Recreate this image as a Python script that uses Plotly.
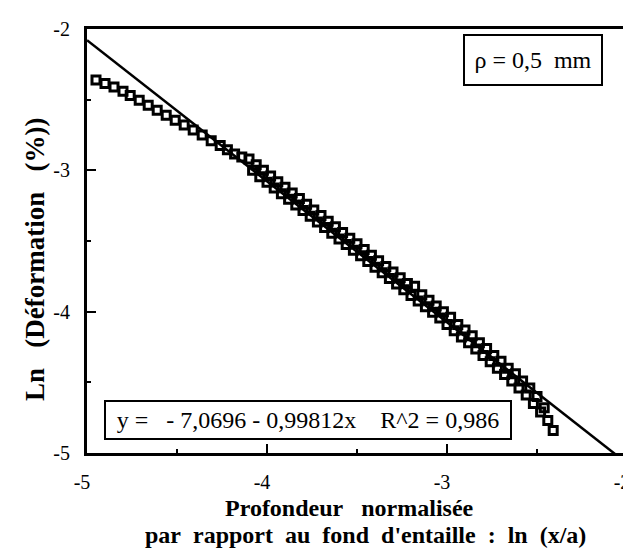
import plotly.graph_objects as go

# ---- data ----
x_data = [-4.95, -4.90, -4.85, -4.80, -4.76, -4.71, -4.66, -4.61, -4.56, -4.51,
          -4.46, -4.41, -4.36, -4.31, -4.26, -4.22, -4.18, -4.14,
          # upper part of the band
          -4.10, -4.06, -4.02, -3.98, -3.94, -3.90, -3.86, -3.82, -3.78, -3.74,
          -3.70, -3.66, -3.62, -3.58, -3.54, -3.50, -3.46, -3.42, -3.38, -3.34,
          -3.30, -3.26, -3.22, -3.18, -3.14, -3.10, -3.06, -3.02, -2.98, -2.94,
          -2.90, -2.86, -2.82, -2.78, -2.74, -2.70, -2.66, -2.62, -2.58, -2.54,
          -2.50, -2.46,
          # lower part of the band
          -4.08, -4.04, -4.00, -3.96, -3.92, -3.88, -3.84, -3.80, -3.76, -3.72,
          -3.68, -3.64, -3.60, -3.56, -3.52, -3.48, -3.44, -3.40, -3.36, -3.32,
          -3.28, -3.24, -3.20, -3.16, -3.12, -3.08, -3.04, -3.00, -2.96, -2.92,
          -2.88, -2.84, -2.80, -2.76, -2.72, -2.68, -2.64, -2.60, -2.56, -2.52,
          -2.48, -2.44, -2.41]
y_data = [-2.360, -2.385, -2.410, -2.440, -2.470, -2.505, -2.540, -2.575, -2.610, -2.645,
          -2.680, -2.715, -2.750, -2.790, -2.825, -2.855, -2.885, -2.905,
          -2.92, -2.96, -3.00, -3.04, -3.08, -3.12, -3.16, -3.20, -3.24, -3.28,
          -3.32, -3.36, -3.40, -3.44, -3.48, -3.52, -3.56, -3.60, -3.64, -3.68,
          -3.72, -3.76, -3.80, -3.82, -3.88, -3.92, -3.96, -4.00, -4.04, -4.09,
          -4.13, -4.17, -4.22, -4.26, -4.31, -4.35, -4.40, -4.44, -4.49, -4.54,
          -4.60, -4.68,
          -3.000, -3.045, -3.085, -3.125, -3.165, -3.205, -3.245, -3.285, -3.325, -3.365,
          -3.405, -3.445, -3.485, -3.525, -3.565, -3.605, -3.645, -3.685, -3.725, -3.765,
          -3.805, -3.845, -3.885, -3.925, -3.965, -4.005, -4.045, -4.09, -4.135, -4.18,
          -4.22, -4.265, -4.31, -4.355, -4.40, -4.445, -4.49, -4.54, -4.59, -4.65,
          -4.71, -4.77, -4.84]

fit_intercept = -7.0696
fit_slope = -0.99812
fit_x = [-5.0, -2.0]
fit_y = [fit_intercept + fit_slope * v for v in fit_x]

x_tick_vals = [-5, -4, -3, -2]
x_tick_labels = ["-5", "-4", "-3", "-2"]
y_tick_vals = [-5, -4, -3, -2]
y_tick_labels = ["-5", "-4", "-3", "-2"]
minor_vals = [-4.5, -3.5, -2.5]

SERIF = "Liberation Serif, Times New Roman, serif"
NB = "\u00a0"

fig = go.Figure()
fig.add_trace(go.Scatter(
    x=fit_x, y=fit_y, mode="lines",
    line=dict(color="black", width=2.5), showlegend=False, hoverinfo="skip"))
fig.add_trace(go.Scatter(
    x=x_data, y=y_data, mode="markers",
    marker=dict(symbol="square-open", size=8, color="black",
                line=dict(color="black", width=3)),
    showlegend=False))

axis_common = dict(
    showgrid=False, zeroline=False, showline=True, linecolor="black",
    linewidth=3, mirror=True, ticks="inside", ticklen=9, tickwidth=2,
    tickcolor="black", tickfont=dict(family=SERIF, size=20, color="black"),
)
fig.update_xaxes(range=[-5, -2], tickvals=x_tick_vals, ticktext=x_tick_labels,
                 ticklabelstandoff=9, ticklabelshift=-5,
                 minor=dict(tickvals=minor_vals, ticks="inside", ticklen=4,
                            tickwidth=2, tickcolor="black"),
                 **axis_common)
fig.update_yaxes(range=[-5, -2], tickvals=y_tick_vals, ticktext=y_tick_labels,
                 ticklabelstandoff=10,
                 minor=dict(tickvals=minor_vals, ticks="inside", ticklen=4,
                            tickwidth=2, tickcolor="black"),
                 **axis_common)

ytitle_font = dict(family=SERIF, size=27, color="black")
xtitle_font = dict(family=SERIF, size=24, color="black")
text_font = dict(family=SERIF, size=24, color="black")

G3 = NB * 3
G2 = NB * 2
fig.update_layout(
    width=631, height=549,
    margin=dict(l=79, r=9, t=21, b=104),
    plot_bgcolor="white", paper_bgcolor="white",
    annotations=[
        dict(text="<b>Ln" + G3 + "(Déformation" + G3 + "(%))</b>",
             xref="paper", yref="paper", x=0, y=0.455, xshift=-52,
             textangle=-90, showarrow=False, font=ytitle_font,
             xanchor="center", yanchor="middle"),
        dict(text="<b>Profondeur" + G3 + "normalisée</b>",
             xref="paper", yref="paper", x=0.5, y=0, yshift=-55, xshift=-8,
             showarrow=False, font=xtitle_font, xanchor="center", yanchor="middle"),
        dict(text="<b>par" + G2 + "rapport" + G2 + "au" + G2 + "fond" + G2
                  + "d'entaille" + G2 + ":" + G2 + "ln" + G2 + "(x/a)</b>",
             xref="paper", yref="paper", x=0.5, y=0, yshift=-82, xshift=8,
             showarrow=False, font=xtitle_font, xanchor="center", yanchor="middle"),
        dict(text="ρ = 0,5" + NB * 2 + "mm",
             xref="paper", yref="paper", x=0.825, y=0.927,
             showarrow=False, font=text_font, xanchor="center", yanchor="middle",
             bordercolor="black", borderwidth=2, bgcolor="white",
             width=132, height=44, borderpad=2),
        dict(text="y =" + NB * 3 + "- 7,0696 - 0,99812x" + NB * 4 + "R^2 = 0,986",
             xref="paper", yref="paper", x=0.41, y=0.078,
             showarrow=False, font=text_font, xanchor="center", yanchor="middle",
             bordercolor="black", borderwidth=2, bgcolor="white",
             width=402, height=34, borderpad=1),
    ],
)

fig.write_html("out.html")
